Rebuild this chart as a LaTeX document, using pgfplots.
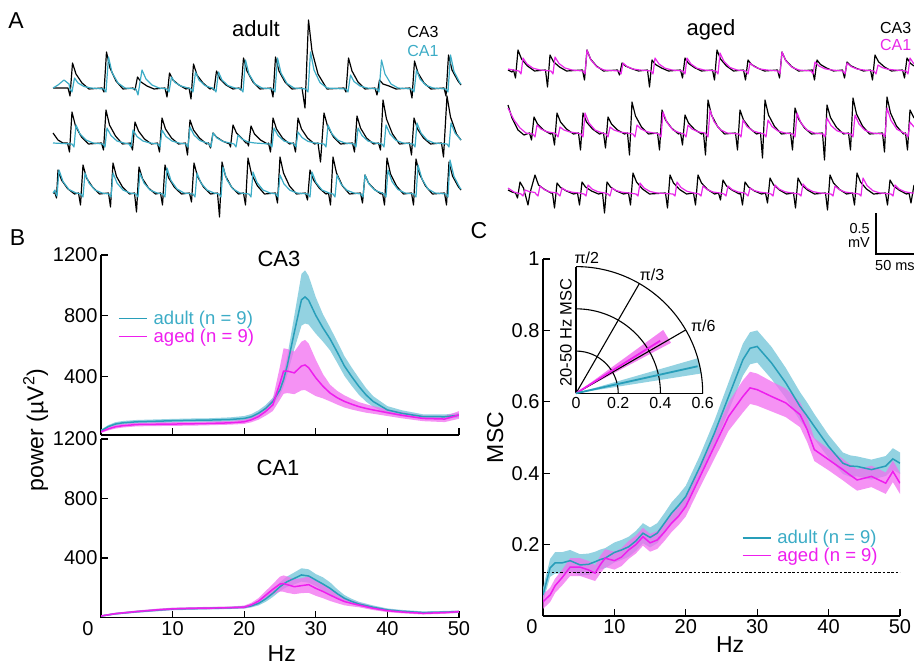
\documentclass[border=0pt]{standalone}
\usepackage{fontspec}
\setmainfont{Liberation Sans}
\usepackage{pgfplots}
\usepackage{pgfplotstable}
\pgfplotsset{compat=1.18}
\usepgfplotslibrary{fillbetween}

\definecolor{adultline}{RGB}{40,158,185}
\definecolor{adultband}{RGB}{135,205,222}
\definecolor{agedline}{RGB}{238,30,238}
\definecolor{agedband}{RGB}{242,110,240}
\definecolor{adulttrace}{RGB}{60,172,198}
\definecolor{agedtrace}{RGB}{232,40,232}

% power spectra, CA3 (mean and sem, uV^2)
\pgfplotstableread{
hz am as gm gs
0 42 8 36 8
1 70 10 55 10
2 87 12 69 12
3 95 12 76 12
5 102 12 84 12
8 106 12 86 12
10 109 12 87 12
13 112 12 89 12
15 113 12 91 12
18 117 14 95 12
20 124 16 102 14
21 135 18 115 16
22 158 20 136 20
23 190 22 170 28
24 236 25 213 40
25 313 35 358 110
25.5 380 45 436 150
26 469 60 436 145
27 691 110 424 140
28 905 170 469 160
28.5 924 175 476 165
29 902 160 458 160
30 802 120 391 120
31 720 90 336 80
32 647 75 291 55
33 560 70 260 45
34 469 65 236 40
35 400 60 218 35
36 336 55 202 30
37 280 45 190 28
38 236 35 180 25
40 180 25 162 22
42 158 20 145 20
45 136 15 124 18
48 135 15 120 20
50 145 15 147 25
}\tabCAthree

% power spectra, CA1
\pgfplotstableread{
hz am as gm gs
0 10 5 10 5
2 25 6 26 6
5 39 7 40 7
8 50 8 52 8
10 57 8 58 8
13 60 8 62 8
15 62 8 63 8
18 65 8 66 8
20 69 9 70 10
21 78 10 85 14
22 95 14 110 20
23 125 20 150 28
24 163 25 190 35
25 207 30 225 50
25.5 225 32 228 55
26 241 35 221 55
27 263 40 207 50
28 286 45 214 50
29 279 45 221 55
30 252 40 196 50
31 225 45 175 45
32 196 40 151 40
33 160 30 128 32
34 129 22 107 25
35 108 18 95 20
36 91 15 84 15
38 69 12 62 12
40 51 10 46 10
42 42 9 37 9
45 33 8 28 8
48 36 8 33 8
50 39 8 39 8
}\tabCAone

% CA3-CA1 coherence
\pgfplotstableread{
hz am as gm gs
0 0.059 0.02 0.040 0.02
1 0.135 0.025 0.059 0.02
1.7 0.149 0.03 0.085 0.02
2.7 0.149 0.03 0.108 0.022
3.8 0.155 0.03 0.137 0.025
5.2 0.143 0.03 0.137 0.025
6.4 0.145 0.03 0.129 0.025
7.3 0.152 0.028 0.120 0.022
8 0.158 0.028 0.143 0.025
8.7 0.162 0.028 0.162 0.025
10 0.178 0.028 0.155 0.025
11 0.185 0.028 0.165 0.025
12 0.194 0.028 0.185 0.025
13 0.21 0.028 0.20 0.025
14 0.232 0.028 0.222 0.025
15 0.22 0.028 0.205 0.025
16 0.232 0.028 0.213 0.025
17 0.26 0.028 0.235 0.025
18 0.288 0.03 0.26 0.025
19 0.31 0.03 0.28 0.025
20 0.335 0.03 0.307 0.028
22 0.419 0.032 0.391 0.03
24 0.512 0.035 0.475 0.035
26 0.615 0.04 0.559 0.04
28 0.718 0.045 0.615 0.045
29 0.75 0.045 0.639 0.045
30 0.755 0.045 0.634 0.045
32 0.709 0.045 0.615 0.042
34 0.653 0.042 0.597 0.04
36 0.587 0.04 0.564 0.035
37 0.56 0.038 0.522 0.035
38 0.531 0.035 0.466 0.032
40 0.475 0.032 0.438 0.03
42 0.428 0.03 0.41 0.03
43 0.42 0.03 0.395 0.03
44 0.419 0.028 0.381 0.03
46 0.41 0.028 0.391 0.03
48 0.42 0.028 0.372 0.03
49 0.44 0.03 0.405 0.03
50 0.428 0.03 0.372 0.03
}\tabMSC

\pgfplotsset{
  panel/.style={scale only axis, xmin=0, xmax=50, axis lines*=left,
    axis line style={line width=1.3pt},
    tick style={black, line width=1.3pt},
    major tick length=7pt, tick align=inside,
    tick label style={font=\fontsize{20}{24}\selectfont},
    /pgf/number format/assume math mode=true,
    legend image code/.code={\draw[##1] (0pt,0pt) -- (28pt,0pt);},
    legend style={draw=none, fill=none, font=\fontsize{18.5}{22}\selectfont,
      inner sep=0pt, row sep=-1pt, cells={anchor=west},
      /tikz/every odd column/.append style={column sep=4pt}},
  },
}

\begin{document}
\begin{tikzpicture}

% ---------- A: traces, in picture pixels ----------
\begin{axis}[at={(0pt,0pt)}, anchor=north west, scale only axis,
  width=914pt, height=666pt, xmin=0, xmax=914, ymin=0, ymax=666,
  y dir=reverse, axis lines=none, clip=false]
% adult CA3
\addplot[black, line width=1.2pt, line join=round] coordinates {
(53,88)(68,88)(70,96)(72.5,63)(76,74)(82,83)(89,89)
(102,88)(104,92)(106.5,52)(110,68)(116,81)(123,89)
(133,88)(135,90)(137.5,77)(141,82)(147,86)(154,89)
(165,88)(167,97)(169.5,73)(173,80)(179,85)(186,89)
(189,88)(191,99)(193.5,64)(197,75)(203,83)(210,89)
(212,88)(214,90)(216.5,71)(220,79)(226,85)(233,89)
(239,88)(241,90)(243.5,58)(247,71)(253,82)(260,89)
(271,88)(273,97)(275.5,57)(279,71)(285,82)(292,89)
(302,88)(305,108)(308.5,20)(312,51)(318,74)(327,89)
(344,88)(346,92)(348.5,58)(352,71)(358,82)(365,89)
(375,88)(377,95)(379.5,80)(383,84)(389,86)(396,89)
(410,88)(412,98)(414.5,61)(418,73)(424,83)(431,89)
(444,88)(446,96)(448.5,55)(452,70)(458,81)(461,85)};
\addplot[black, line width=1.2pt, line join=round] coordinates {
(53,133)(58,140)(63,143)
(67.5,143)(69.5,152)(72,112)(75.5,126)(81.5,137)(88.5,144)
(101.5,143)(103.5,150)(106,110)(109.5,125)(115.5,136)(122.5,144)
(130.5,143)(132.5,150)(135,122)(138.5,131)(144.5,139)(151.5,144)
(157.5,143)(159.5,152)(162,118)(165.5,129)(171.5,138)(178.5,144)
(185.5,143)(187.5,155)(190,120)(193.5,130)(199.5,138)(206.5,144)
(208.5,143)(210.5,148)(213,133)(216.5,137)(222.5,141)(229.5,144)
(230.5,147)(233,125)(236.5,133)(242.5,139)(246,143)
(247.5,143)(248.5,146)(251,126)(254.5,134)(260.5,140)(267.5,144)
(268.5,143)(270.5,152)(273,118)(276.5,129)(282.5,138)(289.5,144)
(293.5,143)(295.5,152)(298,118)(301.5,129)(307.5,138)(314.5,144)
(318,143)(320.5,162)(324,113)(327.5,126)(333.5,137)(340.5,144)
(352.5,143)(354.5,152)(357,116)(360.5,128)(366.5,138)(373.5,144)
(378.5,143)(380.5,150)(383,100)(386.5,119)(392.5,134)(399.5,144)
(409.5,143)(411.5,155)(414,118)(417.5,129)(423.5,138)(430.5,144)
(441.5,143)(443.5,157)(447,96)(450.5,117)(456.5,134)(461,140)};
\addplot[black, line width=1.2pt, line join=round] coordinates {
(53,193)(55,193)(56.5,198)(58,170)(61.5,180)(67.5,188.5)(74.5,194)
(78.5,193)(80.5,205)(83,165)(86.5,178)(92.5,187)(99.5,194)
(108.5,193)(110.5,207)(113,163)(116.5,176.5)(122.5,187)(129.5,194)
(134.5,193)(136.5,212)(139,167)(142.5,178.7)(148.5,188)(155.5,194)
(160.5,193)(162.5,205)(165,165)(168.5,177.6)(174.5,187.4)(181.5,194)
(189.5,193)(191.5,202)(194,163)(197.5,176.5)(203.5,187)(210.5,194)
(217.5,193)(219.5,217)(222,162)(225.5,176)(231.5,187)(238.5,194)
(243.5,193)(245.5,205)(248,158)(251.5,174)(257.5,186)(264.5,194)
(275.5,193)(277.5,203)(280,157)(283.5,173)(289.5,186)(296.5,194)
(305.5,193)(307.5,200)(310,170)(313.5,180)(319.5,188.4)(326,194)
(328.5,193)(330.5,205)(333,157)(336.5,173)(342.5,186)(349.5,194)
(360.5,193)(362.5,203)(365,175)(368.5,183)(374.5,189.4)(381,194)
(382.5,193)(384.5,205)(387,158)(390.5,174)(396.5,186)(403.5,194)
(411.5,193)(413.5,205)(416,159)(419.5,174)(425.5,186)(432.5,194)
(444.5,193)(446.5,205)(449,162)(452.5,176)(458.5,187)(461,190)};
% adult CA1
\addplot[adulttrace, line width=1.2pt, line join=round] coordinates {
(53,88)(58,85)(64,80)(69,84)
(70,89)(72,92)(74.5,78)(78,83)(84,86.5)(91,88)
(104,89)(106,92)(108.5,57)(112,72.5)(118,83)(125,88)
(136,89)(138,95)(142,70)(146,79)(152,85)(159,88)
(167,89)(169,92)(171.5,77)(175,82.5)(181,86)(188,88)
(191,89)(193,92)(195.5,72)(199,80)(205,85.6)(212,88)
(214,89)(216,92)(218.5,72)(222,80)(228,85.6)(235,88)
(241,89)(243,92)(245.5,60)(249,74)(255,84)(262,88)
(273,89)(275,92)(277.5,58)(281,73)(287,83.5)(294,88)
(306,89)(308,92)(310.5,52)(314,70)(320,82.6)(327,88)
(346,89)(348,92)(350.5,75)(354,81.5)(360,86)(367,88)
(377,89)(379,92)(381.5,60)(385,74)(391,84)(398,88)
(412,89)(414,92)(416.5,70)(420,79)(426,85.3)(433,88)
(446,89)(448,92)(450.5,55)(454,71.5)(460,83)(461,84)};
\addplot[adulttrace, line width=1.2pt, line join=round] coordinates {
(53,143)
(72,144)(74,147)(76,125)(80,134)(86,140)(93,143)
(103,144)(105,147)(107,128)(111,135.5)(117,141)(124,143)
(129,144)(131,147)(133,130)(137,136.5)(143,141)(150,143)
(158,144)(160,147)(162,130)(166,136.5)(172,141)(179,143)
(186,144)(188,147)(190,127)(194,135)(200,140.6)(207,143)
(209,144)(211,147)(213,133)(217,138)(223,141.5)(230,143)
(234,144)(236,147)(238,135)(242,139)(248,142)(255,143)
(270,144)(272,147)(274,128)(278,135.5)(284,141)(291,143)
(294,144)(296,147)(298,132)(302,137.5)(308,141.4)(315,143)
(324,144)(326,147)(328,125)(332,134)(338,140.3)(345,143)
(354,144)(356,147)(358,128)(362,135.5)(368,141)(375,143)
(382,144)(384,147)(386,125)(390,134)(396,140.3)(403,143)
(413,144)(415,147)(417,123)(421,133)(427,140)(434,143)
(447,144)(449,147)(451,123)(455,133)(461,140)};
\addplot[adulttrace, line width=1.2pt, line join=round] coordinates {
(53,193)(55,190)
(56,194)(57,196)(59,170)(63,181.5)(69,189.5)(76,193)
(81,194)(83,197)(85,173)(89,183)(95,190)(102,193)
(109,194)(111,197)(113,173)(117,183)(123,190)(130,193)
(136,194)(138,197)(140,173)(144,183)(150,190)(157,193)
(163,194)(165,197)(167,168)(171,180.5)(177,189)(184,193)
(193,194)(195,197)(197,173)(201,183)(207,190)(214,193)
(219,194)(221,197)(223,167)(227,180)(233,189)(240,193)
(249,194)(251,197)(253,172)(257,182.5)(263,190)(270,193)
(276,194)(278,197)(280,175)(284,184)(290,190.3)(297,193)
(308,194)(310,197)(312,172)(316,182.5)(322,190)(329,193)
(333,194)(335,197)(337,175)(341,184)(347,190.3)(354,193)
(361,194)(363,197)(365,175)(369,184)(375,190.3)(382,193)
(384,194)(386,197)(388,170)(392,181.5)(398,189.5)(405,193)
(414,194)(416,197)(418,165)(422,179)(428,189)(435,193)
(446,194)(448,197)(450,160)(454,176.5)(460,188)(461,189)};
% aged CA3
\addplot[black, line width=1.2pt, line join=round] coordinates {
(508,70)(512,72)
(513.5,70)(515.5,78)(518,50)(521.5,59)(527.5,66)(534.5,71)
(545.5,70)(547.5,87)(550,55)(553.5,61.75)(559.5,67)(566.5,71)
(582.5,70)(584.5,80)(587,50)(590.5,59)(596.5,66)(603.5,71)
(617.5,70)(619.5,75)(622,63)(625.5,66)(631.5,68.6)(638.5,71)
(647.5,70)(649.5,87)(652,60)(655.5,64.5)(661.5,68)(668.5,71)
(680.5,70)(682.5,78)(685,58)(688.5,63.4)(694.5,67.6)(701.5,71)
(712.5,70)(714.5,80)(717,50)(720.5,59)(726.5,66)(733.5,71)
(743.5,70)(745.5,80)(748,60)(751.5,64.5)(757.5,68)(764.5,71)
(777.5,70)(779.5,78)(782,52)(785.5,60)(791.5,66.4)(798.5,71)
(812.5,70)(814.5,80)(817,60)(820.5,64.5)(826.5,68)(833.5,71)
(842.5,70)(844.5,78)(847,62)(850.5,65.6)(856.5,68.4)(863.5,71)
(870.5,70)(872.5,80)(875,55)(878.5,61.75)(884.5,67)(891.5,71)
(902.5,70)(904.5,78)(907,58)(910.5,63.4)(914,66)};
\addplot[black, line width=1.2pt, line join=round] coordinates {
(508,105)(512,118)(518,130)(524,135)
(529.5,133)(531.5,140)(534,117)(537.5,124)(543.5,130)(550.5,134)
(552.5,133)(554.5,145)(557,113)(560.5,122)(566.5,129)(573.5,134)
(578.5,133)(580.5,150)(583,113)(586.5,122)(592.5,129)(599.5,134)
(603.5,133)(605.5,148)(608,117)(611.5,124)(617.5,130)(624.5,134)
(627.5,133)(629.5,155)(632,102)(635.5,116)(641.5,127)(648.5,134)
(657.5,133)(659.5,150)(662,110)(665.5,120)(671.5,128)(678.5,134)
(680.5,133)(682.5,145)(685,115)(688.5,123)(694.5,129.4)(701.5,134)
(703.5,133)(705.5,155)(708,100)(711.5,115)(717.5,126.4)(724.5,134)
(735.5,133)(737.5,150)(740,110)(743.5,120)(749.5,128)(756.5,134)
(760.5,133)(762.5,158)(765,100)(768.5,115)(774.5,126.4)(781.5,134)
(790.5,133)(792.5,150)(795,108)(798.5,119)(804.5,128)(811.5,134)
(822.5,133)(824.5,160)(827,105)(830.5,117.6)(836.5,127.4)(843.5,134)
(848.5,133)(850.5,150)(853,98)(856.5,114)(862.5,126)(869.5,134)
(882.5,133)(884.5,152)(887,97)(890.5,113)(896.5,126)(903.5,134)
(905.5,133)(907.5,150)(910,110)(914,118)};
\addplot[black, line width=1.2pt, line join=round] coordinates {
(508,190)(512,192)
(515.5,193)(517.5,198)(520,182)(523.5,188)(528,205)(530,193)
(535,175)(538.5,185)(544.5,189.4)(551,193)
(552.5,193)(554.5,208)(557,183)(560.5,187.5)(566.5,191)(573.5,194)
(577.5,193)(579.5,205)(582,182)(585.5,187)(591.5,191)(598.5,194)
(602.5,193)(604.5,213)(607,182)(610.5,187)(616.5,191)(623.5,194)
(628.5,193)(630.5,205)(633,173)(636.5,182)(642.5,189)(649.5,194)
(665.5,193)(667.5,208)(670,175)(673.5,183)(679.5,189.4)(686.5,194)
(693.5,193)(695.5,205)(698,175)(701.5,183)(707.5,189.4)(714.5,194)
(718.5,193)(720.5,200)(723,180)(726.5,186)(732.5,190.4)(739.5,194)
(740.5,193)(742.5,205)(745,182)(748.5,187)(754.5,191)(761.5,194)
(765.5,193)(767.5,203)(770,178)(773.5,184.75)(779.5,190)(786.5,194)
(793.5,193)(795.5,208)(798,178)(801.5,184.75)(807.5,190)(814.5,194)
(825.5,193)(827.5,210)(830,175)(833.5,183)(839.5,189.4)(846.5,194)
(852.5,193)(854.5,205)(857,173)(860.5,182)(866.5,189)(873.5,194)
(885.5,193)(887.5,205)(890,180)(893.5,186)(899.5,190.4)(906.5,194)
(909,193)(911,203)(914,185)};
% aged CA1
\addplot[agedtrace, line width=1.2pt, line join=round] coordinates {
(508,69)
(519,71)(521,74)(523,58)(527,64)(533,68.2)(540,70)
(551,71)(553,74)(555,57)(559,63.5)(565,68)(572,70)
(583,71)(585,74)(587,50)(591,60)(597,67)(604,70)
(619,71)(621,74)(623,63)(627,66.5)(633,69)(640,70)
(651,71)(653,74)(655,58)(659,64)(665,68.2)(672,70)
(683,71)(685,74)(687,58)(691,64)(697,68.2)(704,70)
(716,71)(718,74)(720,53)(724,61.5)(730,67.5)(737,70)
(746,71)(748,74)(750,63)(754,66.5)(760,69)(767,70)
(778,71)(780,74)(782,52)(786,61)(792,67.3)(799,70)
(811,71)(813,74)(815,62)(819,66)(825,68.8)(832,70)
(843,71)(845,74)(847,63)(851,66.5)(857,69)(864,70)
(874,71)(876,74)(878,65)(882,67.5)(888,69.3)(895,70)
(906,71)(908,74)(910,58)(914,64)};
\addplot[agedtrace, line width=1.2pt, line join=round] coordinates {
(508,108)(514,120)(520,128)(526,133)
(533,134)(535,137)(537,125)(541,129)(547,131.8)(554,133)
(556,134)(558,137)(560,127)(564,130)(570,132)(577,133)
(581,134)(583,137)(585,113)(589,123)(595,130)(602,133)
(606,134)(608,137)(610,127)(614,130)(620,132)(627,133)
(633,134)(635,137)(637,125)(641,129)(647,131.8)(654,133)
(659,134)(661,137)(663,112)(667,122.5)(673,130)(680,133)
(684,134)(686,137)(688,125)(692,129)(698,131.8)(705,133)
(706,134)(708,137)(710,110)(714,121.5)(720,129.5)(727,133)
(739,134)(741,137)(743,120)(747,126.5)(753,131)(760,133)
(764,134)(766,137)(768,120)(772,126.5)(778,131)(785,133)
(793,134)(795,137)(797,113)(801,123)(807,130)(814,133)
(823,134)(825,137)(827,118)(831,125.5)(837,130.8)(844,133)
(851,134)(853,137)(855,115)(859,124)(865,130.3)(872,133)
(883,134)(885,137)(887,108)(891,120.5)(897,129.3)(904,133)
(906,134)(908,137)(910,122)(914,127)};
\addplot[agedtrace, line width=1.2pt, line join=round] coordinates {
(508,188)(514,192)
(521,194)(523,196)(525,190)(529,191.5)(535,192.5)
(536,194)(538,196)(540,186)(544,189.5)(550,192)(557,193)
(558,194)(560,196)(562,188)(566,190.5)(572,192.2)(579,193)
(584,194)(586,196)(588,185)(592,189)(598,191.8)(605,193)
(608,194)(610,196)(612,188)(616,190.5)(622,192.2)(629,193)
(636,194)(638,196)(640,183)(644,188)(650,191.5)(657,193)
(673,194)(675,196)(677,182)(681,187.5)(687,191.3)(694,193)
(699,194)(701,196)(703,186)(707,189.5)(713,192)(720,193)
(724,194)(726,196)(728,186)(732,189.5)(738,192)(745,193)
(746,194)(748,196)(750,188)(754,190.5)(760,192.2)(767,193)
(771,194)(773,196)(775,185)(779,189)(785,191.8)(792,193)
(799,194)(801,196)(803,184)(807,188.5)(813,191.6)(820,193)
(831,194)(833,196)(835,186)(839,189.5)(845,192)(852,193)
(859,194)(861,196)(863,178)(867,185.5)(873,190.8)(880,193)
(891,194)(893,196)(895,185)(899,189)(905,191.8)(912,193)(914,193)};
% scale bar: 0.5 mV, 50 ms
\addplot[black, line width=1.2pt] coordinates {(876,213)(876,254)(914,254)};
% labels
\node[anchor=base, font=\fontsize{23}{26}\selectfont] at (axis cs:16,28) {A};
\node[anchor=base, font=\fontsize{23}{26}\selectfont] at (axis cs:17.5,245) {B};
\node[anchor=base, font=\fontsize{23}{26}\selectfont] at (axis cs:479,238) {C};
\node[anchor=base, font=\fontsize{22}{26}\selectfont] at (axis cs:256,36) {adult};
\node[anchor=base, font=\fontsize{22}{26}\selectfont] at (axis cs:711,35) {aged};
\node[anchor=base east, font=\fontsize{16}{18}\selectfont] at (axis cs:442,37.5) {CA3};
\node[anchor=base east, font=\fontsize{16}{18}\selectfont, text=adulttrace] at (axis cs:442,56) {CA1};
\node[anchor=base west, font=\fontsize{16}{18}\selectfont] at (axis cs:876.5,33.3) {CA3};
\node[anchor=base west, font=\fontsize{16}{18}\selectfont, text=agedtrace] at (axis cs:876.5,50) {CA1};
\node[anchor=base east, inner sep=1pt, font=\fontsize{14.5}{15}\selectfont] at (axis cs:871,233.3) {0.5};
\node[anchor=base east, inner sep=1pt, font=\fontsize{14.5}{15}\selectfont] at (axis cs:871,247.3) {mV};
\node[anchor=base west, inner sep=0pt, font=\fontsize{14.5}{15}\selectfont] at (axis cs:875,270) {50 ms};
\node[anchor=base, font=\fontsize{22}{26}\selectfont] at (axis cs:279,266.7) {CA3};
\node[anchor=base, font=\fontsize{22}{26}\selectfont] at (axis cs:278,475) {CA1};
\node[anchor=base, rotate=90, font=\fontsize{23}{26}\selectfont] at (axis cs:43.3,430) {power (µV\textsuperscript{2})};
\end{axis}

% ---------- B: CA3 power ----------
\begin{axis}[panel, at={(101pt,-435pt)}, anchor=south west,
  width=358pt, height=180pt, ymin=15, ymax=1200,
  ytick={400,800,1200}, yticklabels={400,800,1200},
  xtick={10,20,30,40,50}, xticklabels={},
  legend style={at={(0.0475,0.70)}, anchor=north west}]
\addplot[name path=a3u, draw=none, forget plot] table[x=hz, y expr=\thisrow{am}+\thisrow{as}] {\tabCAthree};
\addplot[name path=a3l, draw=none, forget plot] table[x=hz, y expr=\thisrow{am}-\thisrow{as}] {\tabCAthree};
\addplot[fill=adultband, fill opacity=0.9, forget plot] fill between[of=a3u and a3l];
\addplot[name path=g3u, draw=none, forget plot] table[x=hz, y expr=\thisrow{gm}+\thisrow{gs}] {\tabCAthree};
\addplot[name path=g3l, draw=none, forget plot] table[x=hz, y expr=\thisrow{gm}-\thisrow{gs}] {\tabCAthree};
\addplot[fill=agedband, fill opacity=0.75, forget plot] fill between[of=g3u and g3l];
\addplot[adultline, line width=1.5pt] table[x=hz, y=am] {\tabCAthree};
\addlegendentry{\textcolor{adulttrace}{adult (n = 9)}}
\addplot[agedline, line width=1.5pt] table[x=hz, y=gm] {\tabCAthree};
\addlegendentry{\textcolor{agedline}{aged (n = 9)}}
\end{axis}

% ---------- B: CA1 power ----------
\begin{axis}[panel, at={(101pt,-617.5pt)}, anchor=south west,
  width=358pt, height=178.5pt, ymin=0, ymax=1200,
  ytick={400,800,1200}, yticklabels={400,800,1200},
  xtick={10,20,30,40,50}, xticklabels={10,20,30,40,50},
  extra x ticks={0}, extra x tick labels={0},
  extra x tick style={major tick length=0pt, xticklabel style={xshift=-13pt}},
  xlabel={Hz}, xlabel style={font=\fontsize{23}{26}\selectfont,
    at={(axis description cs:0.505,-0.2476)}, anchor=base}]
\addplot[name path=a1u, draw=none, forget plot] table[x=hz, y expr=\thisrow{am}+\thisrow{as}] {\tabCAone};
\addplot[name path=a1l, draw=none, forget plot] table[x=hz, y expr=\thisrow{am}-\thisrow{as}] {\tabCAone};
\addplot[fill=adultband, fill opacity=0.9, forget plot] fill between[of=a1u and a1l];
\addplot[name path=g1u, draw=none, forget plot] table[x=hz, y expr=\thisrow{gm}+\thisrow{gs}] {\tabCAone};
\addplot[name path=g1l, draw=none, forget plot] table[x=hz, y expr=\thisrow{gm}-\thisrow{gs}] {\tabCAone};
\addplot[fill=agedband, fill opacity=0.75, forget plot] fill between[of=g1u and g1l];
\addplot[adultline, line width=1.5pt] table[x=hz, y=am] {\tabCAone};
\addplot[agedline, line width=1.5pt] table[x=hz, y=gm] {\tabCAone};
\end{axis}

% ---------- C: coherence ----------
\begin{axis}[panel, at={(543pt,-616pt)}, anchor=south west,
  width=357pt, height=357pt, ymin=0, ymax=1,
  ytick={0.2,0.4,0.6,0.8,1}, yticklabels={0.2,0.4,0.6,0.8,1},
  xtick={10,20,30,40,50}, xticklabels={10,20,30,40,50},
  extra x ticks={0}, extra x tick labels={0},
  extra x tick style={major tick length=0pt, xticklabel style={xshift=-11pt}},
  xlabel={Hz}, xlabel style={font=\fontsize{23}{26}\selectfont,
    at={(axis description cs:0.524,-0.1036)}, anchor=base},
  ylabel={MSC}, ylabel style={font=\fontsize{23}{26}\selectfont,
    at={(axis description cs:-0.112,0.5)}, anchor=base},
  legend style={at={(0.5566,0.246)}, anchor=north west}]
\addplot[name path=amu, draw=none, forget plot] table[x=hz, y expr=\thisrow{am}+\thisrow{as}] {\tabMSC};
\addplot[name path=aml, draw=none, forget plot] table[x=hz, y expr=\thisrow{am}-\thisrow{as}] {\tabMSC};
\addplot[fill=adultband, fill opacity=0.9, forget plot] fill between[of=amu and aml];
\addplot[name path=gmu, draw=none, forget plot] table[x=hz, y expr=\thisrow{gm}+\thisrow{gs}] {\tabMSC};
\addplot[name path=gml, draw=none, forget plot] table[x=hz, y expr=\thisrow{gm}-\thisrow{gs}] {\tabMSC};
\addplot[fill=agedband, fill opacity=0.75, forget plot] fill between[of=gmu and gml];
\addplot[black, line width=0.9pt, dash pattern=on 2.5pt off 1.8pt, forget plot] coordinates {(0,0.1225)(50,0.1225)};
\addplot[adultline, line width=1.5pt] table[x=hz, y=am] {\tabMSC};
\addlegendentry{\textcolor{adulttrace}{adult (n = 9)}}
\addplot[agedline, line width=1.5pt] table[x=hz, y=gm] {\tabMSC};
\addlegendentry{\textcolor{agedline}{aged (n = 9)}}
\end{axis}

% ---------- C inset: mean phase and 20-50 Hz MSC ----------
\begin{axis}[scale only axis, at={(576pt,-393.3pt)}, anchor=south west,
  width=126.7pt, height=126.7pt, xmin=0, xmax=0.6, ymin=0, ymax=0.6,
  axis lines*=left, axis line style={line width=1.1pt}, clip=false,
  xtick={0,0.2,0.4,0.6}, xticklabels={0,0.2,0.4,0.6}, major tick length=0pt,
  ytick=\empty, tick label style={font=\fontsize{16}{18}\selectfont},
  ylabel={20-50 Hz MSC}, ylabel style={font=\fontsize{16.5}{18}\selectfont,
    at={(axis description cs:-0.034,0.48)}, anchor=base}]
\addplot[fill=agedband, draw=none, fill opacity=0.85] coordinates {(0,0)(0.450,0.239)(0.413,0.300)} -- cycle;
\addplot[fill=adultband, draw=none, fill opacity=0.9] coordinates {(0,0)(0.593,0.094)(0.577,0.166)} -- cycle;
\draw[line width=1.1pt] (axis cs:0.2,0) arc[start angle=0, end angle=90, radius=42.23pt];
\draw[line width=1.1pt] (axis cs:0.4,0) arc[start angle=0, end angle=90, radius=84.47pt];
\draw[line width=1.1pt] (axis cs:0.6,0) arc[start angle=0, end angle=90, radius=126.7pt];
\draw[line width=1.1pt] (axis cs:0,0) -- (axis cs:0.5196,0.3);
\draw[line width=1.1pt] (axis cs:0,0) -- (axis cs:0.3,0.5196);
\addplot[agedline, line width=1.8pt] coordinates {(0,0)(0.399,0.249)};
\addplot[adultline, line width=1.8pt] coordinates {(0,0)(0.576,0.128)};
\node[font=\fontsize{16}{18}\selectfont] at (axis cs:0.0507,0.641) {π/2};
\node[font=\fontsize{16}{18}\selectfont] at (axis cs:0.36,0.56) {π/3};
\node[font=\fontsize{16}{18}\selectfont] at (axis cs:0.603,0.32) {π/6};
\end{axis}

\pgfresetboundingbox
\path[use as bounding box] (0pt,0pt) rectangle (914pt,-666pt);
\end{tikzpicture}
\end{document}
